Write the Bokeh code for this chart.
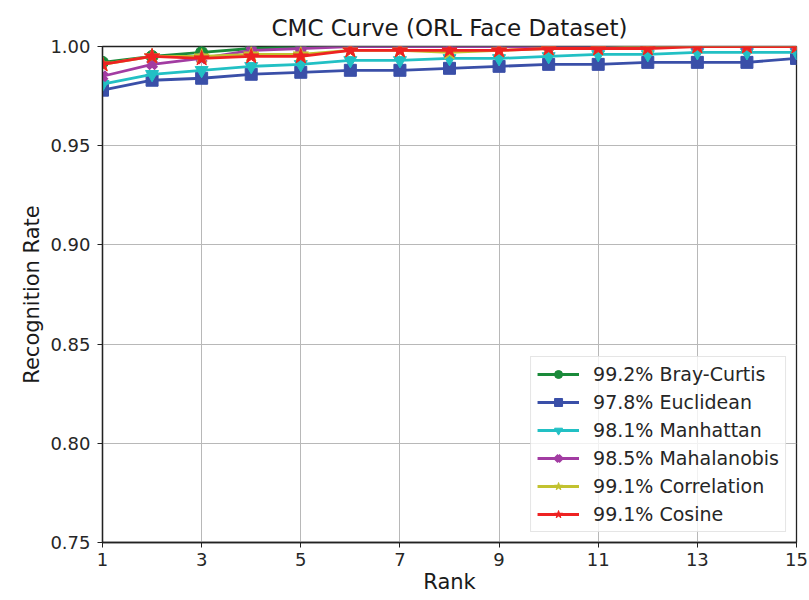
from bokeh.plotting import figure
from bokeh.models import FixedTicker, NumeralTickFormatter, Range1d, Legend, LegendItem
from bokeh.embed import file_html
from bokeh.resources import INLINE

ranks = list(range(1, 16))
bray_curtis = [0.992, 0.995, 0.997, 0.999, 1.0, 1.0, 1.0, 1.0, 1.0, 1.0, 1.0, 1.0, 1.0, 1.0, 1.0]
euclidean = [0.978, 0.983, 0.984, 0.986, 0.987, 0.988, 0.988, 0.989, 0.990, 0.991, 0.991, 0.992, 0.992, 0.992, 0.994]
manhattan = [0.981, 0.986, 0.988, 0.990, 0.991, 0.993, 0.993, 0.994, 0.994, 0.995, 0.996, 0.996, 0.997, 0.997, 0.997]
mahalanobis = [0.985, 0.991, 0.994, 0.998, 0.999, 1.0, 1.0, 1.0, 1.0, 1.0, 1.0, 1.0, 1.0, 1.0, 1.0]
correlation = [0.991, 0.995, 0.995, 0.996, 0.996, 0.998, 0.998, 0.997, 0.998, 0.999, 0.999, 1.0, 1.0, 1.0, 1.0]
cosine = [0.991, 0.995, 0.994, 0.995, 0.995, 0.998, 0.998, 0.998, 0.998, 0.999, 0.999, 0.999, 1.0, 1.0, 1.0]
labels = ["99.2% Bray-Curtis", "97.8% Euclidean", "98.1% Manhattan",
          "98.5% Mahalanobis", "99.1% Correlation", "99.1% Cosine"]
x_ticks = [1, 3, 5, 7, 9, 11, 13, 15]
y_ticks = [0.75, 0.80, 0.85, 0.90, 0.95, 1.00]

series = [bray_curtis, euclidean, manhattan, mahalanobis, correlation, cosine]
colors = ["#1a8a3a", "#3a4fa8", "#22c0c4", "#a23ca2", "#c2c230", "#ee2222"]
markers = ["circle", "square", "inverted_triangle", "x", "star", "star"]
sizes = [12, 12, 13, 12, 16, 16]

p = figure(width=809, height=600, output_backend="svg", toolbar_location=None,
           x_range=Range1d(1, 15), y_range=Range1d(0.75, 1.0),
           title="CMC Curve (ORL Face Dataset)",
           min_border_left=102, min_border_right=13, min_border_top=46, min_border_bottom=58)

p.title.align = "center"
p.title.text_font = "DejaVu Sans"
p.title.text_font_size = "23px"
p.title.text_font_style = "normal"
p.title.text_color = "#1a1a1a"
p.title.standoff = 12

p.outline_line_color = "#222222"
p.outline_line_width = 1.3

for ax in (p.xaxis, p.yaxis):
    ax.axis_line_color = "#222222"
    ax.axis_line_width = 1.3
    ax.major_tick_line_color = "#222222"
    ax.major_tick_out = 5
    ax.major_tick_in = 0
    ax.minor_tick_line_color = None
    ax.major_label_text_font = "DejaVu Sans"
    ax.major_label_text_font_size = "18px"
    ax.major_label_text_color = "#262626"
    ax.major_label_standoff = 7
    ax.axis_label_text_font = "DejaVu Sans"
    ax.axis_label_text_font_size = "21px"
    ax.axis_label_text_font_style = "normal"
    ax.axis_label_text_color = "#1a1a1a"

p.xaxis.ticker = FixedTicker(ticks=x_ticks)
p.yaxis.ticker = FixedTicker(ticks=y_ticks)
p.yaxis.formatter = NumeralTickFormatter(format="0.00")
p.xaxis.axis_label = "Rank"
p.yaxis.axis_label = "Recognition Rate"
p.xaxis.major_label_standoff = 5
p.xaxis.axis_label_standoff = 1
p.yaxis.axis_label_standoff = 3

p.grid.grid_line_color = "#b8b8b8"
p.grid.grid_line_width = 1

items = []
for vals, col, mk, sz, lab in zip(series, colors, markers, sizes, labels):
    r1 = p.line(ranks, vals, line_color=col, line_width=2.8)
    if mk == "x":
        r2 = p.scatter(ranks, vals, marker="x", size=sz, line_color=col, line_width=5)
    else:
        r2 = p.scatter(ranks, vals, marker=mk, size=sz, fill_color=col, line_color=col)
    items.append(LegendItem(label=lab, renderers=[r1, r2]))

legend = Legend(items=items, location="bottom_right")
legend.margin = 10
legend.padding = 6
legend.spacing = 6
legend.label_height = 20
legend.glyph_height = 20
legend.glyph_width = 42
legend.label_standoff = 14
legend.label_text_font = "DejaVu Sans"
legend.label_text_font_size = "19px"
legend.label_text_color = "#262626"
legend.border_line_color = "#cccccc"
legend.border_line_width = 1
legend.background_fill_alpha = 0.8
p.add_layout(legend)

open("out.html", "w").write(file_html(p, INLINE))
